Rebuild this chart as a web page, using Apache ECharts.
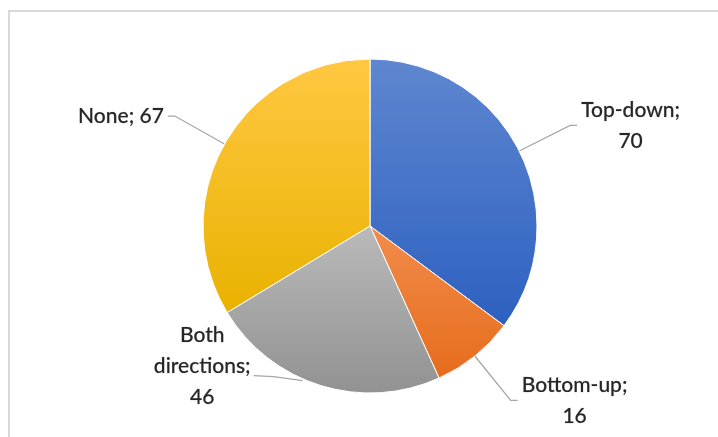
<!DOCTYPE html>
<html>
<head>
<meta charset="utf-8">
<script src="https://cdn.jsdelivr.net/npm/echarts@6/dist/echarts.min.js"></script>
<style>
  html, body { margin: 0; padding: 0; background: #ffffff; }
  #chart { width: 718px; height: 437px; }
</style>
</head>
<body>
<div id="chart"></div>
<script>
// Direction of influence, counts per category
const categories = ['Top-down', 'Bottom-up', 'Both directions', 'None'];
const counts = [70, 16, 46, 67];

// Slice fills: lighter top, darker bottom
const topColors = ['#5f87d0', '#f28c4c', '#bababa', '#ffc842'];
const bottomColors = ['#2d60c0', '#e66c1c', '#929292', '#e9b200'];

// Label text lines per slice
const labelLines = [['Top-down;', '70'], ['Bottom-up;', '16'], ['Both', 'directions;', '46'], ['None; 67']];

const chart = echarts.init(document.getElementById('chart'), null, { renderer: 'canvas' });

const data = categories.map((name, i) => ({
  name: name,
  value: counts[i],
  itemStyle: {
    color: new echarts.graphic.LinearGradient(0, 0, 0, 1, [
      { offset: 0, color: topColors[i] },
      { offset: 1, color: bottomColors[i] }
    ])
  }
}));

const labelFont = 'Lato, "Liberation Sans", sans-serif';

chart.setOption({
  animation: false,
  backgroundColor: '#ffffff',
  graphic: [{
    type: 'rect',
    shape: { x: 9, y: 11, width: 760, height: 480 },
    style: { fill: 'none', stroke: '#d9d9d9', lineWidth: 2 },
    silent: true
  }],
  series: [{
    type: 'pie',
    center: [370, 226],
    radius: 167,
    startAngle: 90,
    clockwise: true,
    data: data,
    itemStyle: { borderColor: '#ffffff', borderWidth: 1 },
    label: {
      show: true,
      position: 'outside',
      distanceToLabelLine: 4,
      fontFamily: labelFont,
      fontSize: 21,
      color: '#262626',
      formatter: function (p) {
        return labelLines[p.dataIndex].map(t => '{c|' + t + '}').join('\n');
      },
      rich: {
        c: {
          align: 'center',
          fontFamily: labelFont,
          fontSize: 21,
          fontWeight: 500,
          lineHeight: 31,
          color: '#262626',
          textBorderColor: 'rgba(38,38,38,0.35)',
          textBorderWidth: 0.5
        }
      }
    },
    labelLine: {
      show: true,
      length: 57,
      length2: 7,
      smooth: false,
      lineStyle: { color: '#a6a6a6', width: 1.3 }
    },
    labelLayout: function (params) {
      // The two-way slice sits near the bottom; its label goes to the left with a short flat leader
      if (params.dataIndex === 2) {
        const p0 = params.labelLinePoints[0];
        const start = [p0[0] - 18, p0[1] - 5];
        const end = [p0[0] - 67, p0[1] - 10];
        return {
          x: end[0] - 3,
          y: end[1] - 9,
          align: 'right',
          verticalAlign: 'middle',
          labelLinePoints: [start, [end[0] + 20, end[1] + 1], end]
        };
      }
      return {};
    }
  }]
});
</script>
</body>
</html>
